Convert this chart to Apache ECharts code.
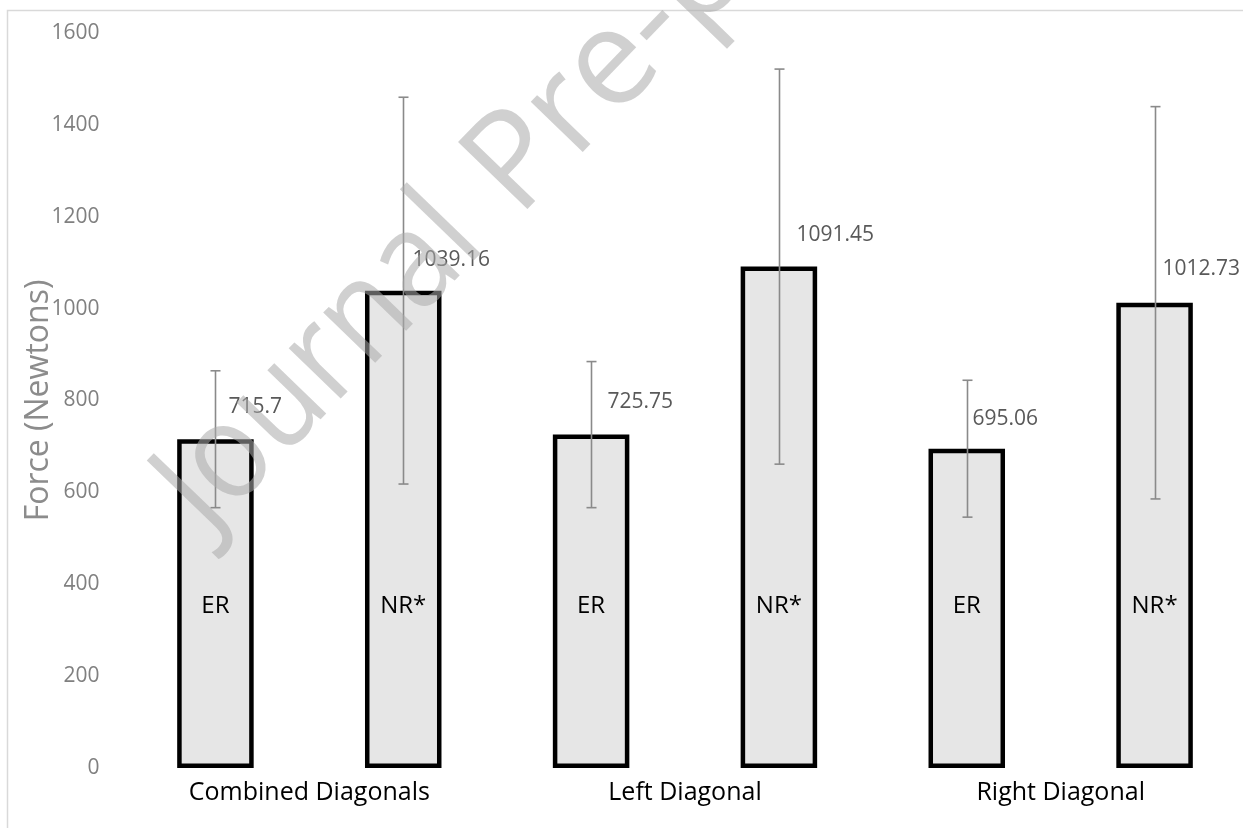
<!DOCTYPE html>
<html>
<head>
<meta charset="utf-8">
<script src="https://cdn.jsdelivr.net/npm/echarts@6/dist/echarts.min.js"></script>
<style>
html,body{margin:0;padding:0;background:#fff;}
#chart{width:1243px;height:828px;}
</style>
</head>
<body>
<div id="chart"></div>
<script>
// ---- data ----
const categories = ['Combined Diagonals', 'Left Diagonal', 'Right Diagonal'];
const seriesNames = ['ER', 'NR*'];
const erValues = [715.7, 725.75, 695.06];
const nrValues = [1039.16, 1091.45, 1012.73];
const erErrors = [149, 159, 149];
const nrErrors = [421, 430, 427];
const yMin = 0, yMax = 1600, yInterval = 200;
const yAxisTitle = 'Force (Newtons)';
const watermarkWords = ['Journal', 'Pre-proof'];

// ---- label placement (style) ----
const erLabelDx = [13, 16, 5];
const nrLabelDx = [9, 17, 7];
const erLabelDy = [32, 33, 30];
const nrLabelDy = [31, 32, 34];

const FONT = '"Open Sans", "Noto Sans", sans-serif';

function makeErrRender(sign, dxs, dys) {
  return function (params, api) {
    const i = api.value(0), v = api.value(1), e = api.value(2);
    const band = api.size([1, 0])[0];
    const c = api.coord([i, v]);
    const x = Math.round(c[0] + sign * band / 4) + 0.5;
    const yt = api.coord([i, v + e])[1];
    const yb = api.coord([i, v - e])[1];
    const cap = 5;
    const st = { stroke: '#8a8a8a', lineWidth: 1.6 };
    return {
      type: 'group',
      children: [
        { type: 'line', shape: { x1: x, y1: yt, x2: x, y2: yb }, style: st },
        { type: 'line', shape: { x1: x - cap, y1: yt, x2: x + cap, y2: yt }, style: st },
        { type: 'line', shape: { x1: x - cap, y1: yb, x2: x + cap, y2: yb }, style: st },
        {
          type: 'text',
          x: x + dxs[params.dataIndex],
          y: c[1] - dys[params.dataIndex],
          style: {
            text: String(v), fill: '#595959',
            fontSize: 21, fontFamily: FONT,
            align: 'left', verticalAlign: 'middle',
            textAlign: 'left', textVerticalAlign: 'middle'
          }
        }
      ]
    };
  };
}

const barCommon = {
  type: 'bar',
  barWidth: 76.5,
  barGap: '145.5%',
  itemStyle: { color: '#e6e6e6', borderColor: '#000', borderWidth: 4.5 },
  label: {
    show: true, position: 'insideBottom', distance: 150,
    formatter: '{a}', color: '#000', fontSize: 24, fontFamily: FONT
  },
  emphasis: { disabled: true },
  z: 2
};

const wmStyle = {
  fontSize: 135, fontFamily: FONT,
  fill: 'rgba(170,170,170,0.55)',
  align: 'left', verticalAlign: 'top',
  textAlign: 'left', textVerticalAlign: 'top'
};
const wmRot = 46 * Math.PI / 180;

const chart = echarts.init(document.getElementById('chart'), null, { renderer: 'canvas' });
chart.setOption({
  animation: false,
  backgroundColor: '#fff',
  grid: { left: 121.5, top: 33, width: 1127, height: 735, containLabel: false, outerBoundsMode: 'none' },
  xAxis: {
    type: 'category',
    data: categories,
    axisLine: { show: false },
    axisTick: { show: false },
    axisLabel: { color: '#000', fontSize: 25, fontFamily: FONT, margin: 12 },
    splitLine: { show: false }
  },
  yAxis: {
    type: 'value',
    min: yMin, max: yMax, interval: yInterval,
    axisLine: { show: false },
    axisTick: { show: false },
    splitLine: { show: false },
    axisLabel: {
      color: '#808080', fontSize: 21, fontFamily: FONT, margin: 22,
      padding: [4, 0, 0, 0],
      formatter: (v) => String(v)
    },
    name: yAxisTitle,
    nameLocation: 'middle',
    nameGap: 67,
    nameMoveOverlap: false,
    nameTextStyle: { color: '#8c8c8c', fontSize: 32, fontFamily: FONT }
  },
  series: [
    Object.assign({}, barCommon, { name: seriesNames[0], data: erValues }),
    Object.assign({}, barCommon, { name: seriesNames[1], data: nrValues }),
    {
      type: 'custom', name: 'ER err', z: 3,
      renderItem: makeErrRender(-1, erLabelDx, erLabelDy),
      encode: { x: 0, y: 1 },
      data: erValues.map((v, i) => [i, v, erErrors[i]]),
      silent: true
    },
    {
      type: 'custom', name: 'NR err', z: 3,
      renderItem: makeErrRender(1, nrLabelDx, nrLabelDy),
      encode: { x: 0, y: 1 },
      data: nrValues.map((v, i) => [i, v, nrErrors[i]]),
      silent: true
    }
  ],
  graphic: [
    {
      type: 'rect', z: 0, silent: true,
      shape: { x: 7.5, y: 10.5, width: 1400, height: 1000 },
      style: { fill: 'none', stroke: '#d9d9d9', lineWidth: 1.5 }
    },
    {
      type: 'text', z: 100, silent: true,
      x: 132, y: 462, rotation: wmRot, scaleX: 0.9, scaleY: 1,
      style: Object.assign({ text: watermarkWords[0] }, wmStyle)
    },
    {
      type: 'text', z: 100, silent: true,
      x: 442, y: 145, rotation: wmRot, scaleX: 1, scaleY: 1,
      style: Object.assign({ text: watermarkWords[1] }, wmStyle)
    }
  ]
});
</script>
</body>
</html>
